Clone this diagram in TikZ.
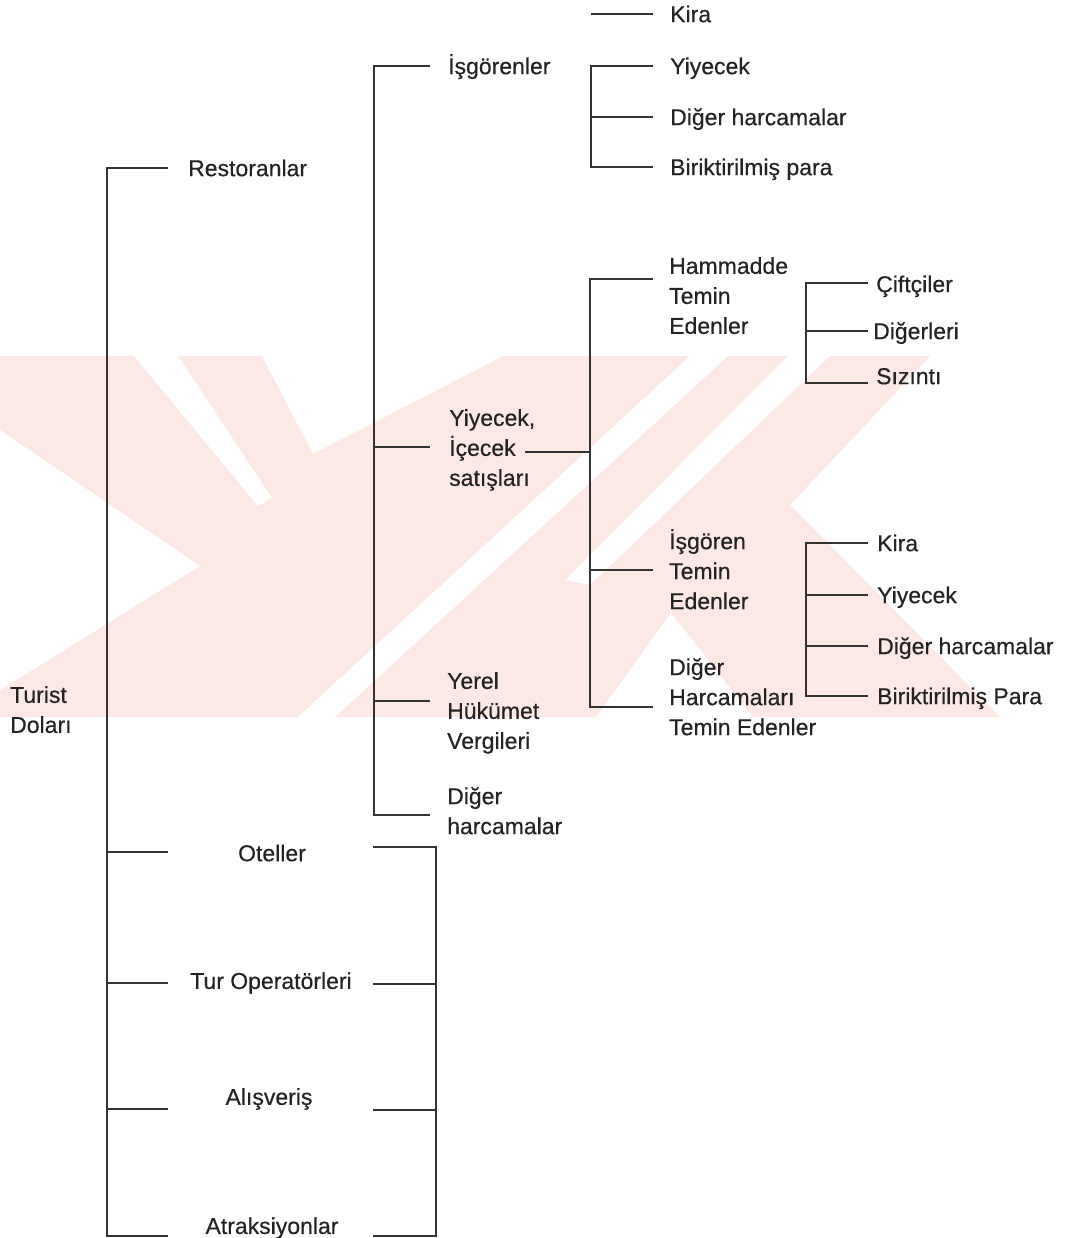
\documentclass[tikz,border=0pt]{standalone}
\usepackage{fontspec}
\setmainfont{Liberation Sans}[FakeBold=0.35]
\definecolor{wm}{RGB}{252,233,229}
\definecolor{ln}{RGB}{50,50,50}
\definecolor{tx}{RGB}{35,35,35}
\begin{document}
\begin{tikzpicture}[x=1pt,y=-1pt,
  conn/.style={draw=ln,line width=1.2pt},
  lbl/.style={anchor=north west,inner sep=0pt,align=left,text=tx,
    font=\fontsize{23}{30}\selectfont,execute at begin node=\strut},
  clbl/.style={anchor=center,inner sep=0pt,text=tx,font=\fontsize{23}{30}\selectfont}]
\useasboundingbox (0,0) rectangle (1067,1238);
\fill[white] (0,0) rectangle (1067,1238);
% watermark
\fill[wm] (0,356) -- (930,356) -- (790,505) -- (1000,717) -- (0,717) -- cycle;
\fill[white] (134,356) -- (178,356) -- (272,498) -- (258,506) -- cycle;
\fill[white] (262,356) -- (503,356) -- (313,454) -- cycle;
\fill[white] (0,430) -- (200,566) -- (0,690) -- cycle;
\fill[white] (690,356) -- (728,356) -- (335,717) -- (298,717) -- cycle;
\fill[white] (788,356) -- (830,356) -- (590,585) -- (565,580) -- cycle;
\fill[white] (671,613) -- (753,717) -- (596,717) -- cycle;
% trunk 1
\coordinate (a1) at (107,168); \coordinate (a1e) at (168,168);
\coordinate (a2) at (107,852); \coordinate (a2e) at (168,852);
\coordinate (a3) at (107,983); \coordinate (a3e) at (168,983);
\coordinate (a4) at (107,1109); \coordinate (a4e) at (168,1109);
\coordinate (a5) at (107,1236); \coordinate (a5e) at (168,1236);
\node[lbl] (turist) at (10,686) {Turist\\Doları};
\node[lbl] (rest) at (188,155) {Restoranlar};
\node[clbl] (otel) at (272,853) {Oteller};
\node[clbl] (tur) at (271,983) {Tur Operatörleri};
\node[clbl] (alis) at (269,1099) {Alışveriş};
\node[clbl] (atr) at (272,1228) {Atraksiyonlar};
\draw[conn] (a1e) -- (a1) -- (a5) -- (a5e);
\draw[conn] (a2) -- (a2e);
\draw[conn] (a3) -- (a3e);
\draw[conn] (a4) -- (a4e);
% right bracket
\coordinate (r1) at (436,847); \coordinate (r1s) at (373,847);
\coordinate (r2) at (436,984); \coordinate (r2s) at (373,984);
\coordinate (r3) at (436,1110); \coordinate (r3s) at (373,1110);
\coordinate (r4) at (436,1236); \coordinate (r4s) at (373,1236);
\draw[conn] (r1s) -- (r1) -- (r4) -- (r4s);
\draw[conn] (r2s) -- (r2);
\draw[conn] (r3s) -- (r3);
% trunk 2
\coordinate (b1) at (374,66); \coordinate (b1e) at (430,66);
\coordinate (b2) at (374,447); \coordinate (b2e) at (430,447);
\coordinate (b3) at (374,701); \coordinate (b3e) at (430,701);
\coordinate (b4) at (374,815); \coordinate (b4e) at (430,815);
\node[lbl] (isg) at (448,53) {İşgörenler};
\node[lbl] (yis) at (449,409) {Yiyecek,\\İçecek\\satışları};
\node[lbl] (yer) at (447,672) {Yerel\\Hükümet\\Vergileri};
\node[lbl] (dh) at (447,787) {Diğer\\harcamalar};
\draw[conn] (b1e) -- (b1) -- (b4) -- (b4e);
\draw[conn] (b2) -- (b2e);
\draw[conn] (b3) -- (b3e);
% trunk 3
\coordinate (k0) at (591,14); \coordinate (k0e) at (653,14);
\coordinate (c1) at (591,66); \coordinate (c1e) at (653,66);
\coordinate (c2) at (591,117); \coordinate (c2e) at (653,117);
\coordinate (c3) at (591,167); \coordinate (c3e) at (653,167);
\node[lbl] (kira1) at (670,1) {Kira};
\node[lbl] (yiy1) at (670,53) {Yiyecek};
\node[lbl] (dig1) at (670,104) {Diğer harcamalar};
\node[lbl] (bir1) at (670,154) {Biriktirilmiş para};
\draw[conn] (k0) -- (k0e);
\draw[conn] (c1e) -- (c1) -- (c3) -- (c3e);
\draw[conn] (c2) -- (c2e);
% trunk 4
\coordinate (d1) at (590,279); \coordinate (d1e) at (653,279);
\coordinate (dm) at (590,452); \coordinate (dms) at (525,452);
\coordinate (d2) at (590,570); \coordinate (d2e) at (653,570);
\coordinate (d3) at (590,707); \coordinate (d3e) at (653,707);
\node[lbl] (ham) at (669,257) {Hammadde\\Temin\\Edenler};
\node[lbl] (isgt) at (669,529) {İşgören\\Temin\\Edenler};
\node[lbl] (dht) at (669,658) {Diğer\\Harcamaları\\Temin Edenler};
\draw[conn] (d1e) -- (d1) -- (d3) -- (d3e);
\draw[conn] (d2) -- (d2e);
\draw[conn] (dms) -- (dm);
% trunk 5
\coordinate (e1) at (806,283); \coordinate (e1e) at (868,283);
\coordinate (e2) at (806,331); \coordinate (e2e) at (868,331);
\coordinate (e3) at (806,383); \coordinate (e3e) at (868,383);
\node[lbl] (cif) at (876,271) {Çiftçiler};
\node[lbl] (dig2) at (873,318) {Diğerleri};
\node[lbl] (siz) at (876,363) {Sızıntı};
\draw[conn] (e1e) -- (e1) -- (e3) -- (e3e);
\draw[conn] (e2) -- (e2e);
% trunk 6
\coordinate (f1) at (806,543); \coordinate (f1e) at (868,543);
\coordinate (f2) at (806,595); \coordinate (f2e) at (868,595);
\coordinate (f3) at (806,646); \coordinate (f3e) at (868,646);
\coordinate (f4) at (806,696); \coordinate (f4e) at (868,696);
\node[lbl] (kira2) at (877,530) {Kira};
\node[lbl] (yiy2) at (877,582) {Yiyecek};
\node[lbl] (dig3) at (877,633) {Diğer harcamalar};
\node[lbl] (bir2) at (877,683) {Biriktirilmiş Para};
\draw[conn] (f1e) -- (f1) -- (f4) -- (f4e);
\draw[conn] (f2) -- (f2e);
\draw[conn] (f3) -- (f3e);
\end{tikzpicture}
\end{document}
